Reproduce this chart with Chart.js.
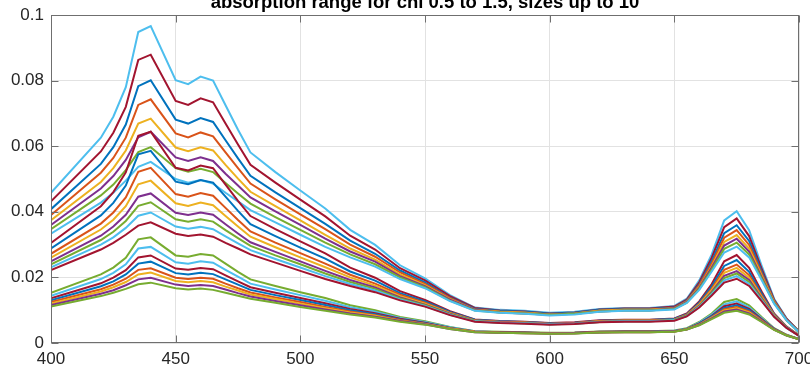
<!DOCTYPE html>
<html>
<head>
<meta charset="utf-8">
<script src="https://cdn.jsdelivr.net/npm/chart.js@4/dist/chart.umd.min.js"></script>
<style>
  html, body { margin: 0; padding: 0; background: #ffffff; }
  #wrap { width: 810px; height: 371px; }
</style>
</head>
<body>
<div id="wrap"><canvas id="c" width="810" height="371"></canvas></div>
<script>
// ---------- data ----------
const titleText = 'absorption range for chi 0.5 to 1.5, sizes up to 10';
const wavelengths = [400, 420, 425, 430, 435, 440, 450, 455, 460, 465, 470, 475, 480, 490, 500, 510, 520, 530, 540, 550, 560, 570, 580, 590, 600, 610, 620, 630, 640, 650, 655, 660, 665, 670, 675, 680, 685, 690, 695, 700];
const xTicks = [400, 450, 500, 550, 600, 650, 700];
const yTickLabels = ['0', '0.02', '0.04', '0.06', '0.08', '0.1'];

// chi = 1.5 group (sizes small -> large)
const chi15_s1 = [0.0458, 0.0626, 0.0690, 0.0780, 0.0948, 0.0966, 0.0801, 0.0789, 0.0812, 0.0800, 0.0725, 0.0650, 0.0581, 0.0521, 0.0465, 0.0410, 0.0345, 0.0299, 0.0237, 0.0197, 0.0146, 0.0108, 0.0101, 0.0098, 0.0092, 0.0095, 0.0104, 0.0107, 0.0107, 0.0113, 0.0135, 0.0191, 0.0270, 0.0374, 0.0402, 0.0344, 0.0236, 0.0135, 0.0075, 0.0035];
const chi15_s2 = [0.0432, 0.0584, 0.0641, 0.0720, 0.0863, 0.0879, 0.0738, 0.0726, 0.0746, 0.0734, 0.0669, 0.0605, 0.0543, 0.0489, 0.0437, 0.0386, 0.0327, 0.0285, 0.0228, 0.0191, 0.0143, 0.0107, 0.0099, 0.0096, 0.0090, 0.0093, 0.0102, 0.0105, 0.0105, 0.0111, 0.0132, 0.0185, 0.0260, 0.0353, 0.0380, 0.0326, 0.0227, 0.0132, 0.0074, 0.0035];
const chi15_s3 = [0.0408, 0.0546, 0.0597, 0.0666, 0.0783, 0.0801, 0.0681, 0.0669, 0.0686, 0.0674, 0.0618, 0.0563, 0.0510, 0.0459, 0.0411, 0.0363, 0.0312, 0.0272, 0.0221, 0.0185, 0.0138, 0.0104, 0.0098, 0.0095, 0.0089, 0.0092, 0.0101, 0.0104, 0.0104, 0.0108, 0.0129, 0.0179, 0.0249, 0.0335, 0.0359, 0.0311, 0.0218, 0.0129, 0.0072, 0.0035];
const chi15_s4 = [0.0390, 0.0519, 0.0564, 0.0626, 0.0726, 0.0743, 0.0639, 0.0627, 0.0642, 0.0630, 0.0581, 0.0533, 0.0486, 0.0438, 0.0392, 0.0347, 0.0300, 0.0263, 0.0215, 0.0180, 0.0137, 0.0102, 0.0096, 0.0093, 0.0087, 0.0090, 0.0099, 0.0102, 0.0102, 0.0107, 0.0128, 0.0176, 0.0242, 0.0321, 0.0344, 0.0299, 0.0212, 0.0128, 0.0072, 0.0035];
const chi15_s5 = [0.0374, 0.0491, 0.0533, 0.0587, 0.0669, 0.0684, 0.0596, 0.0585, 0.0597, 0.0587, 0.0543, 0.0501, 0.0461, 0.0417, 0.0374, 0.0330, 0.0288, 0.0254, 0.0209, 0.0176, 0.0134, 0.0101, 0.0095, 0.0092, 0.0087, 0.0090, 0.0098, 0.0101, 0.0101, 0.0105, 0.0126, 0.0171, 0.0234, 0.0308, 0.0329, 0.0288, 0.0206, 0.0125, 0.0071, 0.0033];
const chi15_s6 = [0.0360, 0.0471, 0.0509, 0.0558, 0.0627, 0.0644, 0.0566, 0.0555, 0.0566, 0.0555, 0.0516, 0.0480, 0.0444, 0.0401, 0.0360, 0.0318, 0.0279, 0.0248, 0.0204, 0.0173, 0.0132, 0.0101, 0.0093, 0.0090, 0.0086, 0.0089, 0.0096, 0.0099, 0.0099, 0.0105, 0.0125, 0.0168, 0.0230, 0.0297, 0.0318, 0.0279, 0.0201, 0.0123, 0.0071, 0.0033];
const chi15_s7 = [0.0347, 0.0450, 0.0483, 0.0527, 0.0582, 0.0597, 0.0533, 0.0522, 0.0531, 0.0521, 0.0488, 0.0456, 0.0425, 0.0384, 0.0345, 0.0306, 0.0270, 0.0240, 0.0200, 0.0170, 0.0129, 0.0099, 0.0093, 0.0090, 0.0086, 0.0089, 0.0096, 0.0099, 0.0099, 0.0104, 0.0123, 0.0165, 0.0224, 0.0287, 0.0306, 0.0270, 0.0197, 0.0122, 0.0069, 0.0033];
const chi15_s8 = [0.0333, 0.0428, 0.0458, 0.0495, 0.0537, 0.0552, 0.0500, 0.0489, 0.0497, 0.0486, 0.0458, 0.0432, 0.0405, 0.0368, 0.0330, 0.0293, 0.0261, 0.0233, 0.0195, 0.0167, 0.0128, 0.0098, 0.0092, 0.0089, 0.0084, 0.0087, 0.0095, 0.0098, 0.0098, 0.0102, 0.0122, 0.0162, 0.0218, 0.0276, 0.0294, 0.0261, 0.0192, 0.0120, 0.0069, 0.0033];

// chi = 1.0 group
const chi10_s1 = [0.0305, 0.0417, 0.0460, 0.0520, 0.0632, 0.0644, 0.0534, 0.0526, 0.0541, 0.0533, 0.0483, 0.0433, 0.0387, 0.0347, 0.0310, 0.0273, 0.0230, 0.0199, 0.0158, 0.0131, 0.0097, 0.0072, 0.0067, 0.0065, 0.0061, 0.0063, 0.0069, 0.0071, 0.0071, 0.0075, 0.0090, 0.0127, 0.0180, 0.0249, 0.0268, 0.0229, 0.0157, 0.0090, 0.0050, 0.0023];
const chi10_s2 = [0.0288, 0.0389, 0.0427, 0.0480, 0.0575, 0.0586, 0.0492, 0.0484, 0.0497, 0.0489, 0.0446, 0.0403, 0.0362, 0.0326, 0.0291, 0.0257, 0.0218, 0.0190, 0.0152, 0.0127, 0.0095, 0.0071, 0.0066, 0.0064, 0.0060, 0.0062, 0.0068, 0.0070, 0.0070, 0.0074, 0.0088, 0.0123, 0.0173, 0.0235, 0.0253, 0.0217, 0.0151, 0.0088, 0.0049, 0.0023];
const chi10_s3 = [0.0272, 0.0364, 0.0398, 0.0444, 0.0522, 0.0534, 0.0454, 0.0446, 0.0457, 0.0449, 0.0412, 0.0375, 0.0340, 0.0306, 0.0274, 0.0242, 0.0208, 0.0181, 0.0147, 0.0123, 0.0092, 0.0069, 0.0065, 0.0063, 0.0059, 0.0061, 0.0067, 0.0069, 0.0069, 0.0072, 0.0086, 0.0119, 0.0166, 0.0223, 0.0239, 0.0207, 0.0145, 0.0086, 0.0048, 0.0023];
const chi10_s4 = [0.0260, 0.0346, 0.0376, 0.0417, 0.0484, 0.0495, 0.0426, 0.0418, 0.0428, 0.0420, 0.0387, 0.0355, 0.0324, 0.0292, 0.0261, 0.0231, 0.0200, 0.0175, 0.0143, 0.0120, 0.0091, 0.0068, 0.0064, 0.0062, 0.0058, 0.0060, 0.0066, 0.0068, 0.0068, 0.0071, 0.0085, 0.0117, 0.0161, 0.0214, 0.0229, 0.0199, 0.0141, 0.0085, 0.0048, 0.0023];
const chi10_s5 = [0.0249, 0.0327, 0.0355, 0.0391, 0.0446, 0.0456, 0.0397, 0.0390, 0.0398, 0.0391, 0.0362, 0.0334, 0.0307, 0.0278, 0.0249, 0.0220, 0.0192, 0.0169, 0.0139, 0.0117, 0.0089, 0.0067, 0.0063, 0.0061, 0.0058, 0.0060, 0.0065, 0.0067, 0.0067, 0.0070, 0.0084, 0.0114, 0.0156, 0.0205, 0.0219, 0.0192, 0.0137, 0.0083, 0.0047, 0.0022];
const chi10_s6 = [0.0240, 0.0314, 0.0339, 0.0372, 0.0418, 0.0429, 0.0377, 0.0370, 0.0377, 0.0370, 0.0344, 0.0320, 0.0296, 0.0267, 0.0240, 0.0212, 0.0186, 0.0165, 0.0136, 0.0115, 0.0088, 0.0067, 0.0062, 0.0060, 0.0057, 0.0059, 0.0064, 0.0066, 0.0066, 0.0070, 0.0083, 0.0112, 0.0153, 0.0198, 0.0212, 0.0186, 0.0134, 0.0082, 0.0047, 0.0022];
const chi10_s7 = [0.0231, 0.0300, 0.0322, 0.0351, 0.0388, 0.0398, 0.0355, 0.0348, 0.0354, 0.0347, 0.0325, 0.0304, 0.0283, 0.0256, 0.0230, 0.0204, 0.0180, 0.0160, 0.0133, 0.0113, 0.0086, 0.0066, 0.0062, 0.0060, 0.0057, 0.0059, 0.0064, 0.0066, 0.0066, 0.0069, 0.0082, 0.0110, 0.0149, 0.0191, 0.0204, 0.0180, 0.0131, 0.0081, 0.0046, 0.0022];
const chi10_s8 = [0.0222, 0.0285, 0.0305, 0.0330, 0.0358, 0.0368, 0.0333, 0.0326, 0.0331, 0.0324, 0.0305, 0.0288, 0.0270, 0.0245, 0.0220, 0.0195, 0.0174, 0.0155, 0.0130, 0.0111, 0.0085, 0.0065, 0.0061, 0.0059, 0.0056, 0.0058, 0.0063, 0.0065, 0.0065, 0.0068, 0.0081, 0.0108, 0.0145, 0.0184, 0.0196, 0.0174, 0.0128, 0.0080, 0.0046, 0.0022];

// chi = 0.5 group
const chi05_s1 = [0.0153, 0.0209, 0.0230, 0.0260, 0.0316, 0.0322, 0.0267, 0.0263, 0.0271, 0.0267, 0.0242, 0.0217, 0.0194, 0.0174, 0.0155, 0.0137, 0.0115, 0.0100, 0.0079, 0.0066, 0.0049, 0.0036, 0.0034, 0.0033, 0.0031, 0.0032, 0.0035, 0.0036, 0.0036, 0.0038, 0.0045, 0.0064, 0.0090, 0.0125, 0.0134, 0.0115, 0.0079, 0.0045, 0.0025, 0.0012];
const chi05_s2 = [0.0144, 0.0195, 0.0214, 0.0240, 0.0288, 0.0293, 0.0246, 0.0242, 0.0249, 0.0245, 0.0223, 0.0202, 0.0181, 0.0163, 0.0146, 0.0129, 0.0109, 0.0095, 0.0076, 0.0064, 0.0048, 0.0036, 0.0033, 0.0032, 0.0030, 0.0031, 0.0034, 0.0035, 0.0035, 0.0037, 0.0044, 0.0062, 0.0087, 0.0118, 0.0127, 0.0109, 0.0076, 0.0044, 0.0025, 0.0012];
const chi05_s3 = [0.0136, 0.0182, 0.0199, 0.0222, 0.0261, 0.0267, 0.0227, 0.0223, 0.0229, 0.0225, 0.0206, 0.0188, 0.0170, 0.0153, 0.0137, 0.0121, 0.0104, 0.0091, 0.0074, 0.0062, 0.0046, 0.0035, 0.0033, 0.0032, 0.0030, 0.0031, 0.0034, 0.0035, 0.0035, 0.0036, 0.0043, 0.0060, 0.0083, 0.0112, 0.0120, 0.0104, 0.0073, 0.0043, 0.0024, 0.0012];
const chi05_s4 = [0.0130, 0.0173, 0.0188, 0.0209, 0.0242, 0.0248, 0.0213, 0.0209, 0.0214, 0.0210, 0.0194, 0.0178, 0.0162, 0.0146, 0.0131, 0.0116, 0.0100, 0.0088, 0.0072, 0.0060, 0.0046, 0.0034, 0.0032, 0.0031, 0.0029, 0.0030, 0.0033, 0.0034, 0.0034, 0.0036, 0.0043, 0.0059, 0.0081, 0.0107, 0.0115, 0.0100, 0.0071, 0.0043, 0.0024, 0.0012];
const chi05_s5 = [0.0125, 0.0164, 0.0178, 0.0196, 0.0223, 0.0228, 0.0199, 0.0195, 0.0199, 0.0196, 0.0181, 0.0167, 0.0154, 0.0139, 0.0125, 0.0110, 0.0096, 0.0085, 0.0070, 0.0059, 0.0045, 0.0034, 0.0032, 0.0031, 0.0029, 0.0030, 0.0033, 0.0034, 0.0034, 0.0035, 0.0042, 0.0057, 0.0078, 0.0103, 0.0110, 0.0096, 0.0069, 0.0042, 0.0024, 0.0011];
const chi05_s6 = [0.0120, 0.0157, 0.0170, 0.0186, 0.0209, 0.0215, 0.0189, 0.0185, 0.0189, 0.0185, 0.0172, 0.0160, 0.0148, 0.0134, 0.0120, 0.0106, 0.0093, 0.0083, 0.0068, 0.0058, 0.0044, 0.0034, 0.0031, 0.0030, 0.0029, 0.0030, 0.0032, 0.0033, 0.0033, 0.0035, 0.0042, 0.0056, 0.0077, 0.0099, 0.0106, 0.0093, 0.0067, 0.0041, 0.0024, 0.0011];
const chi05_s7 = [0.0116, 0.0150, 0.0161, 0.0176, 0.0194, 0.0199, 0.0178, 0.0174, 0.0177, 0.0174, 0.0163, 0.0152, 0.0142, 0.0128, 0.0115, 0.0102, 0.0090, 0.0080, 0.0067, 0.0057, 0.0043, 0.0033, 0.0031, 0.0030, 0.0029, 0.0030, 0.0032, 0.0033, 0.0033, 0.0035, 0.0041, 0.0055, 0.0075, 0.0096, 0.0102, 0.0090, 0.0066, 0.0041, 0.0023, 0.0011];
const chi05_s8 = [0.0111, 0.0143, 0.0153, 0.0165, 0.0179, 0.0184, 0.0167, 0.0163, 0.0166, 0.0162, 0.0153, 0.0144, 0.0135, 0.0123, 0.0110, 0.0098, 0.0087, 0.0078, 0.0065, 0.0056, 0.0043, 0.0033, 0.0031, 0.0030, 0.0028, 0.0029, 0.0032, 0.0033, 0.0033, 0.0034, 0.0041, 0.0054, 0.0073, 0.0092, 0.0098, 0.0087, 0.0064, 0.0040, 0.0023, 0.0011];

// ---------- styles ----------
const BLUE = '#0072BD', ORANGE = '#D95319', YELLOW = '#EDB120', PURPLE = '#7E2F8E',
      GREEN = '#77AC30', CYAN = '#4DBEEE', RED = '#A2142F';

// plotting order (first plotted lies underneath)
const seriesList = [
  [chi15_s1, CYAN], [chi15_s2, RED], [chi15_s3, BLUE], [chi15_s4, ORANGE],
  [chi15_s5, YELLOW], [chi15_s6, PURPLE], [chi15_s7, GREEN], [chi15_s8, CYAN],
  [chi10_s1, RED], [chi10_s2, BLUE], [chi10_s3, ORANGE], [chi10_s4, YELLOW],
  [chi10_s5, PURPLE], [chi10_s6, GREEN], [chi10_s7, CYAN], [chi10_s8, RED],
  [chi05_s1, GREEN], [chi05_s2, CYAN], [chi05_s3, RED], [chi05_s4, BLUE],
  [chi05_s5, ORANGE], [chi05_s6, YELLOW], [chi05_s7, PURPLE], [chi05_s8, GREEN]
];

const datasets = seriesList.map(([vals, col]) => ({
  data: wavelengths.map((w, i) => ({ x: w, y: vals[i] })),
  borderColor: col,
  borderWidth: 2,
  pointRadius: 0,
  fill: false,
  tension: 0
})).reverse(); // Chart.js draws dataset 0 on top

const FONT = '"Liberation Sans", Arial, Helvetica, sans-serif';

const framePlugin = {
  id: 'frame',
  afterDatasetsDraw(chart) {
    const { ctx, chartArea: a, scales: { x, y } } = chart;
    ctx.save();
    ctx.strokeStyle = '#6f6f6f';
    ctx.lineWidth = 1;
    const L = Math.round(a.left) + 0.5, R = Math.round(a.right) - 0.5;
    const T = Math.round(a.top) + 0.5, B = Math.round(a.bottom) - 0.5;
    ctx.strokeRect(L, T, R - L, B - T);
    ctx.beginPath();
    x.ticks.forEach(t => {
      const px = Math.round(x.getPixelForValue(t.value)) + 0.5;
      ctx.moveTo(px, B); ctx.lineTo(px, B - 7);
      ctx.moveTo(px, T); ctx.lineTo(px, T + 7);
    });
    y.ticks.forEach(t => {
      const py = Math.round(y.getPixelForValue(t.value)) + 0.5;
      ctx.moveTo(L, py); ctx.lineTo(L + 7, py);
      ctx.moveTo(R, py); ctx.lineTo(R - 7, py);
    });
    ctx.stroke();
    ctx.restore();
  },
  afterDraw(chart) {
    const { ctx, chartArea: a } = chart;
    ctx.save();
    ctx.font = 'bold 18.5px ' + FONT;
    ctx.fillStyle = '#000000';
    ctx.textAlign = 'center';
    ctx.textBaseline = 'alphabetic';
    ctx.fillText(titleText, (a.left + a.right) / 2, 8);
    ctx.restore();
  }
};

new Chart(document.getElementById('c'), {
  type: 'line',
  data: { datasets },
  options: {
    responsive: false,
    animation: false,
    events: [],
    layout: { padding: { top: 15, right: 11, left: 0, bottom: 0 } },
    plugins: { legend: { display: false }, tooltip: { enabled: false }, title: { display: false } },
    scales: {
      x: {
        type: 'linear',
        min: 400, max: 700,
        afterBuildTicks(scale) { scale.ticks = xTicks.map(v => ({ value: v })); },
        afterFit(scale) { scale.height = 28; scale.paddingLeft = 0; scale.paddingRight = 0; },
        grid: { color: '#e2e2e2', lineWidth: 1, drawTicks: false },
        border: { display: false },
        ticks: {
          color: '#262626',
          font: { family: FONT, size: 17 },
          padding: 6,
          maxRotation: 0,
          autoSkip: false,
          callback: (v) => String(v)
        }
      },
      y: {
        min: 0, max: 0.1,
        afterBuildTicks(scale) { scale.ticks = yTickLabels.map(s => ({ value: parseFloat(s) })); },
        afterFit(scale) { scale.width = 51; scale.paddingTop = 0; scale.paddingBottom = 0; },
        grid: { color: '#e2e2e2', lineWidth: 1, drawTicks: false },
        border: { display: false },
        ticks: {
          color: '#262626',
          font: { family: FONT, size: 17 },
          padding: 7,
          autoSkip: false,
          callback: (v, i) => yTickLabels[i]
        }
      }
    }
  },
  plugins: [framePlugin]
});
</script>
</body>
</html>
